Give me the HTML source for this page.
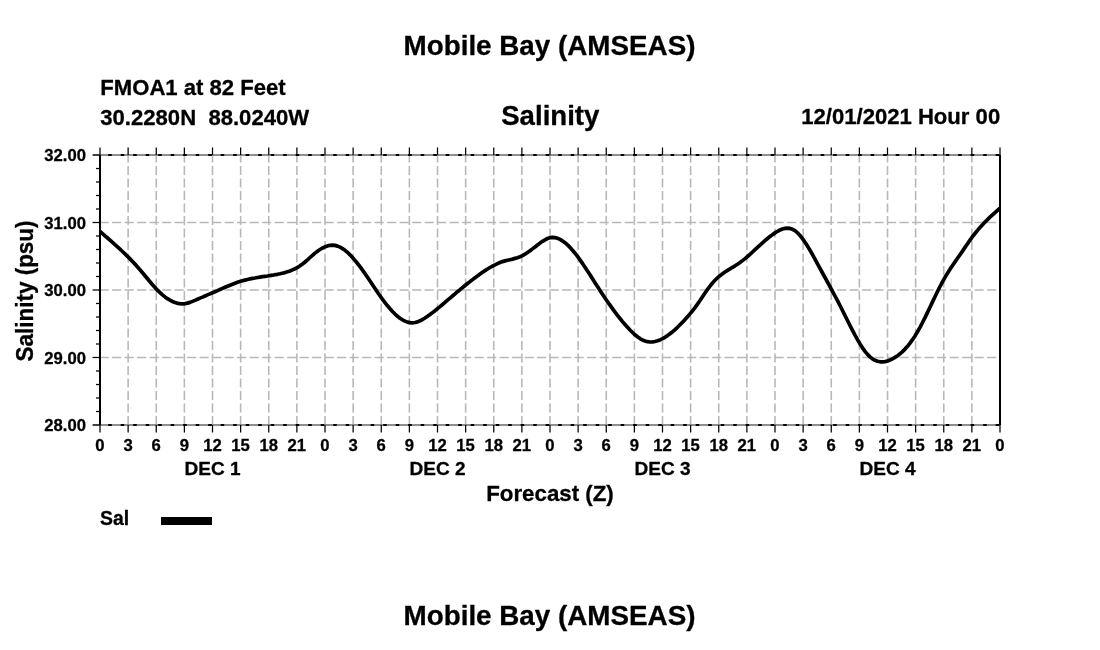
<!DOCTYPE html>
<html><head><meta charset="utf-8"><title>Mobile Bay (AMSEAS) Salinity</title>
<style>html,body{margin:0;padding:0;background:#fff}body{width:1100px;height:650px;overflow:hidden}svg{display:block}text{font-family:"Liberation Sans",Arial,Helvetica,sans-serif;font-weight:bold;fill:#000;stroke:#000;stroke-width:0.3px;stroke-linejoin:round}</style></head><body>
<svg width="1100" height="650" viewBox="0 0 1100 650">
<rect width="1100" height="650" fill="#fff"/>
<g stroke="#b8b8b8" stroke-width="1.6" stroke-dasharray="9.1 3.4" fill="none">
<line x1="128.125" y1="425.1" x2="128.125" y2="155"/>
<line x1="156.250" y1="425.1" x2="156.250" y2="155"/>
<line x1="184.375" y1="425.1" x2="184.375" y2="155"/>
<line x1="212.500" y1="425.1" x2="212.500" y2="155"/>
<line x1="240.625" y1="425.1" x2="240.625" y2="155"/>
<line x1="268.750" y1="425.1" x2="268.750" y2="155"/>
<line x1="296.875" y1="425.1" x2="296.875" y2="155"/>
<line x1="325.000" y1="425.1" x2="325.000" y2="155"/>
<line x1="353.125" y1="425.1" x2="353.125" y2="155"/>
<line x1="381.250" y1="425.1" x2="381.250" y2="155"/>
<line x1="409.375" y1="425.1" x2="409.375" y2="155"/>
<line x1="437.500" y1="425.1" x2="437.500" y2="155"/>
<line x1="465.625" y1="425.1" x2="465.625" y2="155"/>
<line x1="493.750" y1="425.1" x2="493.750" y2="155"/>
<line x1="521.875" y1="425.1" x2="521.875" y2="155"/>
<line x1="550.000" y1="425.1" x2="550.000" y2="155"/>
<line x1="578.125" y1="425.1" x2="578.125" y2="155"/>
<line x1="606.250" y1="425.1" x2="606.250" y2="155"/>
<line x1="634.375" y1="425.1" x2="634.375" y2="155"/>
<line x1="662.500" y1="425.1" x2="662.500" y2="155"/>
<line x1="690.625" y1="425.1" x2="690.625" y2="155"/>
<line x1="718.750" y1="425.1" x2="718.750" y2="155"/>
<line x1="746.875" y1="425.1" x2="746.875" y2="155"/>
<line x1="775.000" y1="425.1" x2="775.000" y2="155"/>
<line x1="803.125" y1="425.1" x2="803.125" y2="155"/>
<line x1="831.250" y1="425.1" x2="831.250" y2="155"/>
<line x1="859.375" y1="425.1" x2="859.375" y2="155"/>
<line x1="887.500" y1="425.1" x2="887.500" y2="155"/>
<line x1="915.625" y1="425.1" x2="915.625" y2="155"/>
<line x1="943.750" y1="425.1" x2="943.750" y2="155"/>
<line x1="971.875" y1="425.1" x2="971.875" y2="155"/>
<line x1="99.6" y1="155.00" x2="1000" y2="155.00"/>
<line x1="99.6" y1="222.50" x2="1000" y2="222.50"/>
<line x1="99.6" y1="290.00" x2="1000" y2="290.00"/>
<line x1="99.6" y1="357.50" x2="1000" y2="357.50"/>
<line x1="99.6" y1="425.00" x2="1000" y2="425.00"/>
</g>
<g stroke="#555" stroke-width="1" fill="none">
<line x1="93" y1="155" x2="1000" y2="155"/>
<line x1="93" y1="425" x2="1000" y2="425"/>
</g>
<g stroke="#000" stroke-width="2" stroke-dasharray="3.6 8.9" fill="none">
<line x1="108.2" y1="155" x2="1000" y2="155"/>
<line x1="108.2" y1="425" x2="1000" y2="425"/>
</g>
<g stroke="#000" stroke-width="1.25" fill="none">
<line x1="100.000" y1="147.5" x2="100.000" y2="155"/>
<line x1="100.000" y1="425" x2="100.000" y2="432.5"/>
<line x1="128.125" y1="147.5" x2="128.125" y2="155"/>
<line x1="128.125" y1="425" x2="128.125" y2="432.5"/>
<line x1="156.250" y1="147.5" x2="156.250" y2="155"/>
<line x1="156.250" y1="425" x2="156.250" y2="432.5"/>
<line x1="184.375" y1="147.5" x2="184.375" y2="155"/>
<line x1="184.375" y1="425" x2="184.375" y2="432.5"/>
<line x1="212.500" y1="147.5" x2="212.500" y2="155"/>
<line x1="212.500" y1="425" x2="212.500" y2="432.5"/>
<line x1="240.625" y1="147.5" x2="240.625" y2="155"/>
<line x1="240.625" y1="425" x2="240.625" y2="432.5"/>
<line x1="268.750" y1="147.5" x2="268.750" y2="155"/>
<line x1="268.750" y1="425" x2="268.750" y2="432.5"/>
<line x1="296.875" y1="147.5" x2="296.875" y2="155"/>
<line x1="296.875" y1="425" x2="296.875" y2="432.5"/>
<line x1="325.000" y1="147.5" x2="325.000" y2="155"/>
<line x1="325.000" y1="425" x2="325.000" y2="432.5"/>
<line x1="353.125" y1="147.5" x2="353.125" y2="155"/>
<line x1="353.125" y1="425" x2="353.125" y2="432.5"/>
<line x1="381.250" y1="147.5" x2="381.250" y2="155"/>
<line x1="381.250" y1="425" x2="381.250" y2="432.5"/>
<line x1="409.375" y1="147.5" x2="409.375" y2="155"/>
<line x1="409.375" y1="425" x2="409.375" y2="432.5"/>
<line x1="437.500" y1="147.5" x2="437.500" y2="155"/>
<line x1="437.500" y1="425" x2="437.500" y2="432.5"/>
<line x1="465.625" y1="147.5" x2="465.625" y2="155"/>
<line x1="465.625" y1="425" x2="465.625" y2="432.5"/>
<line x1="493.750" y1="147.5" x2="493.750" y2="155"/>
<line x1="493.750" y1="425" x2="493.750" y2="432.5"/>
<line x1="521.875" y1="147.5" x2="521.875" y2="155"/>
<line x1="521.875" y1="425" x2="521.875" y2="432.5"/>
<line x1="550.000" y1="147.5" x2="550.000" y2="155"/>
<line x1="550.000" y1="425" x2="550.000" y2="432.5"/>
<line x1="578.125" y1="147.5" x2="578.125" y2="155"/>
<line x1="578.125" y1="425" x2="578.125" y2="432.5"/>
<line x1="606.250" y1="147.5" x2="606.250" y2="155"/>
<line x1="606.250" y1="425" x2="606.250" y2="432.5"/>
<line x1="634.375" y1="147.5" x2="634.375" y2="155"/>
<line x1="634.375" y1="425" x2="634.375" y2="432.5"/>
<line x1="662.500" y1="147.5" x2="662.500" y2="155"/>
<line x1="662.500" y1="425" x2="662.500" y2="432.5"/>
<line x1="690.625" y1="147.5" x2="690.625" y2="155"/>
<line x1="690.625" y1="425" x2="690.625" y2="432.5"/>
<line x1="718.750" y1="147.5" x2="718.750" y2="155"/>
<line x1="718.750" y1="425" x2="718.750" y2="432.5"/>
<line x1="746.875" y1="147.5" x2="746.875" y2="155"/>
<line x1="746.875" y1="425" x2="746.875" y2="432.5"/>
<line x1="775.000" y1="147.5" x2="775.000" y2="155"/>
<line x1="775.000" y1="425" x2="775.000" y2="432.5"/>
<line x1="803.125" y1="147.5" x2="803.125" y2="155"/>
<line x1="803.125" y1="425" x2="803.125" y2="432.5"/>
<line x1="831.250" y1="147.5" x2="831.250" y2="155"/>
<line x1="831.250" y1="425" x2="831.250" y2="432.5"/>
<line x1="859.375" y1="147.5" x2="859.375" y2="155"/>
<line x1="859.375" y1="425" x2="859.375" y2="432.5"/>
<line x1="887.500" y1="147.5" x2="887.500" y2="155"/>
<line x1="887.500" y1="425" x2="887.500" y2="432.5"/>
<line x1="915.625" y1="147.5" x2="915.625" y2="155"/>
<line x1="915.625" y1="425" x2="915.625" y2="432.5"/>
<line x1="943.750" y1="147.5" x2="943.750" y2="155"/>
<line x1="943.750" y1="425" x2="943.750" y2="432.5"/>
<line x1="971.875" y1="147.5" x2="971.875" y2="155"/>
<line x1="971.875" y1="425" x2="971.875" y2="432.5"/>
<line x1="1000.000" y1="147.5" x2="1000.000" y2="155"/>
<line x1="1000.000" y1="425" x2="1000.000" y2="432.5"/>
<line x1="92.5" y1="155.00" x2="100" y2="155.00"/>
<line x1="96" y1="168.50" x2="100" y2="168.50"/>
<line x1="96" y1="182.00" x2="100" y2="182.00"/>
<line x1="96" y1="195.50" x2="100" y2="195.50"/>
<line x1="96" y1="209.00" x2="100" y2="209.00"/>
<line x1="92.5" y1="222.50" x2="100" y2="222.50"/>
<line x1="96" y1="236.00" x2="100" y2="236.00"/>
<line x1="96" y1="249.50" x2="100" y2="249.50"/>
<line x1="96" y1="263.00" x2="100" y2="263.00"/>
<line x1="96" y1="276.50" x2="100" y2="276.50"/>
<line x1="92.5" y1="290.00" x2="100" y2="290.00"/>
<line x1="96" y1="303.50" x2="100" y2="303.50"/>
<line x1="96" y1="317.00" x2="100" y2="317.00"/>
<line x1="96" y1="330.50" x2="100" y2="330.50"/>
<line x1="96" y1="344.00" x2="100" y2="344.00"/>
<line x1="92.5" y1="357.50" x2="100" y2="357.50"/>
<line x1="96" y1="371.00" x2="100" y2="371.00"/>
<line x1="96" y1="384.50" x2="100" y2="384.50"/>
<line x1="96" y1="398.00" x2="100" y2="398.00"/>
<line x1="96" y1="411.50" x2="100" y2="411.50"/>
<line x1="92.5" y1="425.00" x2="100" y2="425.00"/>
</g>
<g stroke="#000" stroke-width="2" fill="none">
<line x1="100" y1="155" x2="100" y2="425"/>
<line x1="1000" y1="155" x2="1000" y2="425"/>
</g>
<path d="M100.0,231.4 L102.5,233.6 L105.0,235.8 L107.5,238.0 L110.0,240.2 L112.5,242.4 L115.0,244.6 L117.5,246.9 L120.0,249.2 L122.5,251.5 L125.0,253.9 L127.5,256.3 L130.0,258.9 L132.5,261.5 L135.0,264.1 L137.5,266.9 L140.0,269.8 L142.5,272.8 L145.0,275.8 L147.5,278.8 L150.0,281.8 L152.5,284.8 L155.0,287.5 L157.5,290.2 L160.0,292.6 L162.5,294.9 L165.0,296.9 L167.5,298.7 L170.0,300.2 L172.5,301.5 L175.0,302.5 L177.5,303.3 L180.0,303.7 L182.5,303.8 L185.0,303.6 L187.5,303.1 L190.0,302.4 L192.5,301.4 L195.0,300.4 L197.5,299.2 L200.0,298.1 L202.5,297.1 L205.0,296.0 L207.5,294.9 L210.0,293.9 L212.5,292.8 L215.0,291.7 L217.5,290.6 L220.0,289.5 L222.5,288.4 L225.0,287.3 L227.5,286.2 L230.0,285.2 L232.5,284.2 L235.0,283.2 L237.5,282.3 L240.0,281.5 L242.5,280.8 L245.0,280.1 L247.5,279.5 L250.0,278.9 L252.5,278.4 L255.0,278.0 L257.5,277.5 L260.0,277.1 L262.5,276.7 L265.0,276.3 L267.5,276.0 L270.0,275.6 L272.5,275.2 L275.0,274.7 L277.5,274.3 L280.0,273.8 L282.5,273.2 L285.0,272.6 L287.5,271.8 L290.0,271.0 L292.5,269.9 L295.0,268.8 L297.5,267.4 L300.0,265.8 L302.5,264.0 L305.0,262.0 L307.5,259.8 L310.0,257.5 L312.5,255.3 L315.0,253.1 L317.5,251.2 L320.0,249.5 L322.5,248.0 L325.0,246.8 L327.5,245.9 L330.0,245.3 L332.5,245.2 L335.0,245.4 L337.5,246.1 L340.0,247.1 L342.5,248.6 L345.0,250.3 L347.5,252.4 L350.0,254.8 L352.5,257.5 L355.0,260.4 L357.5,263.5 L360.0,266.7 L362.5,270.2 L365.0,273.7 L367.5,277.3 L370.0,281.1 L372.5,284.8 L375.0,288.5 L377.5,292.2 L380.0,295.8 L382.5,299.3 L385.0,302.6 L387.5,305.8 L390.0,308.8 L392.5,311.5 L395.0,314.0 L397.5,316.3 L400.0,318.2 L402.5,319.8 L405.0,321.1 L407.5,322.1 L410.0,322.6 L412.5,322.8 L415.0,322.5 L417.5,321.9 L420.0,320.8 L422.5,319.5 L425.0,318.0 L427.5,316.3 L430.0,314.5 L432.5,312.6 L435.0,310.7 L437.5,308.6 L440.0,306.6 L442.5,304.5 L445.0,302.4 L447.5,300.2 L450.0,298.1 L452.5,296.0 L455.0,293.9 L457.5,291.7 L460.0,289.7 L462.5,287.6 L465.0,285.5 L467.5,283.5 L470.0,281.6 L472.5,279.6 L475.0,277.7 L477.5,275.9 L480.0,274.1 L482.5,272.3 L485.0,270.6 L487.5,269.0 L490.0,267.5 L492.5,266.1 L495.0,264.8 L497.5,263.6 L500.0,262.5 L502.5,261.6 L505.0,260.9 L507.5,260.3 L510.0,259.7 L512.5,259.1 L515.0,258.4 L517.5,257.7 L520.0,256.7 L522.5,255.6 L525.0,254.2 L527.5,252.5 L530.0,250.8 L532.5,248.9 L535.0,247.0 L537.5,245.0 L540.0,243.1 L542.5,241.3 L545.0,239.8 L547.5,238.5 L550.0,237.7 L552.5,237.4 L555.0,237.6 L557.5,238.3 L560.0,239.4 L562.5,240.9 L565.0,242.7 L567.5,244.9 L570.0,247.4 L572.5,250.2 L575.0,253.2 L577.5,256.4 L580.0,259.9 L582.5,263.4 L585.0,267.2 L587.5,271.0 L590.0,274.8 L592.5,278.8 L595.0,282.7 L597.5,286.6 L600.0,290.5 L602.5,294.3 L605.0,298.0 L607.5,301.7 L610.0,305.2 L612.5,308.7 L615.0,312.1 L617.5,315.4 L620.0,318.5 L622.5,321.6 L625.0,324.5 L627.5,327.3 L630.0,330.0 L632.5,332.5 L635.0,334.8 L637.5,336.8 L640.0,338.6 L642.5,340.0 L645.0,341.0 L647.5,341.7 L650.0,342.0 L652.5,341.9 L655.0,341.5 L657.5,340.8 L660.0,339.9 L662.5,338.7 L665.0,337.3 L667.5,335.6 L670.0,333.8 L672.5,331.8 L675.0,329.6 L677.5,327.3 L680.0,324.8 L682.5,322.2 L685.0,319.6 L687.5,316.8 L690.0,313.9 L692.5,310.9 L695.0,307.6 L697.5,304.1 L700.0,300.5 L702.5,296.7 L705.0,293.0 L707.5,289.4 L710.0,286.1 L712.5,283.0 L715.0,280.3 L717.5,277.8 L720.0,275.7 L722.5,273.8 L725.0,272.0 L727.5,270.4 L730.0,268.9 L732.5,267.3 L735.0,265.8 L737.5,264.2 L740.0,262.5 L742.5,260.6 L745.0,258.6 L747.5,256.5 L750.0,254.3 L752.5,252.0 L755.0,249.7 L757.5,247.4 L760.0,245.1 L762.5,242.9 L765.0,240.7 L767.5,238.5 L770.0,236.5 L772.5,234.6 L775.0,232.9 L777.5,231.3 L780.0,230.0 L782.5,229.0 L785.0,228.4 L787.5,228.2 L790.0,228.4 L792.5,229.3 L795.0,230.7 L797.5,232.8 L800.0,235.5 L802.5,238.6 L805.0,242.2 L807.5,246.1 L810.0,250.3 L812.5,254.7 L815.0,259.2 L817.5,263.8 L820.0,268.4 L822.5,273.0 L825.0,277.5 L827.5,282.1 L830.0,286.7 L832.5,291.3 L835.0,296.0 L837.5,300.7 L840.0,305.5 L842.5,310.5 L845.0,315.5 L847.5,320.5 L850.0,325.5 L852.5,330.4 L855.0,335.2 L857.5,339.7 L860.0,343.9 L862.5,347.8 L865.0,351.3 L867.5,354.4 L870.0,356.9 L872.5,358.9 L875.0,360.3 L877.5,361.3 L880.0,361.8 L882.5,361.9 L885.0,361.6 L887.5,361.0 L890.0,360.0 L892.5,358.8 L895.0,357.4 L897.5,355.7 L900.0,353.8 L902.5,351.6 L905.0,349.1 L907.5,346.3 L910.0,343.2 L912.5,339.7 L915.0,335.9 L917.5,331.7 L920.0,327.3 L922.5,322.5 L925.0,317.6 L927.5,312.4 L930.0,307.2 L932.5,301.9 L935.0,296.7 L937.5,291.5 L940.0,286.5 L942.5,281.8 L945.0,277.3 L947.5,273.2 L950.0,269.3 L952.5,265.5 L955.0,261.9 L957.5,258.3 L960.0,254.7 L962.5,251.1 L965.0,247.4 L967.5,243.7 L970.0,240.1 L972.5,236.7 L975.0,233.5 L977.5,230.4 L980.0,227.5 L982.5,224.8 L985.0,222.1 L987.5,219.6 L990.0,217.2 L992.5,214.9 L995.0,212.6 L997.5,210.4 L1000.0,208.2" fill="none" stroke="#000" stroke-width="3.7" stroke-linejoin="round" stroke-linecap="butt"/>
<text x="549.5" y="54.9" font-size="27.8" text-anchor="middle">Mobile Bay (AMSEAS)</text>
<text x="549.5" y="624.7" font-size="27.8" text-anchor="middle">Mobile Bay (AMSEAS)</text>
<text x="100.3" y="94.9" font-size="22.1">FMOA1 at 82 Feet</text>
<text x="100.3" y="124.5" font-size="22.1" xml:space="preserve" style="white-space:pre">30.2280N  88.0240W</text>
<text x="550.3" y="125.1" font-size="27.6" text-anchor="middle">Salinity</text>
<text x="1000.2" y="124.2" font-size="22.1" text-anchor="end">12/01/2021 Hour 00</text>
<text x="86" y="161.10" font-size="16.65" text-anchor="end">32.00</text>
<text x="86" y="228.60" font-size="16.65" text-anchor="end">31.00</text>
<text x="86" y="296.10" font-size="16.65" text-anchor="end">30.00</text>
<text x="86" y="363.60" font-size="16.65" text-anchor="end">29.00</text>
<text x="86" y="431.10" font-size="16.65" text-anchor="end">28.00</text>
<text x="100.000" y="451" font-size="16.65" text-anchor="middle">0</text>
<text x="128.125" y="451" font-size="16.65" text-anchor="middle">3</text>
<text x="156.250" y="451" font-size="16.65" text-anchor="middle">6</text>
<text x="184.375" y="451" font-size="16.65" text-anchor="middle">9</text>
<text x="212.500" y="451" font-size="16.65" text-anchor="middle">12</text>
<text x="240.625" y="451" font-size="16.65" text-anchor="middle">15</text>
<text x="268.750" y="451" font-size="16.65" text-anchor="middle">18</text>
<text x="296.875" y="451" font-size="16.65" text-anchor="middle">21</text>
<text x="325.000" y="451" font-size="16.65" text-anchor="middle">0</text>
<text x="353.125" y="451" font-size="16.65" text-anchor="middle">3</text>
<text x="381.250" y="451" font-size="16.65" text-anchor="middle">6</text>
<text x="409.375" y="451" font-size="16.65" text-anchor="middle">9</text>
<text x="437.500" y="451" font-size="16.65" text-anchor="middle">12</text>
<text x="465.625" y="451" font-size="16.65" text-anchor="middle">15</text>
<text x="493.750" y="451" font-size="16.65" text-anchor="middle">18</text>
<text x="521.875" y="451" font-size="16.65" text-anchor="middle">21</text>
<text x="550.000" y="451" font-size="16.65" text-anchor="middle">0</text>
<text x="578.125" y="451" font-size="16.65" text-anchor="middle">3</text>
<text x="606.250" y="451" font-size="16.65" text-anchor="middle">6</text>
<text x="634.375" y="451" font-size="16.65" text-anchor="middle">9</text>
<text x="662.500" y="451" font-size="16.65" text-anchor="middle">12</text>
<text x="690.625" y="451" font-size="16.65" text-anchor="middle">15</text>
<text x="718.750" y="451" font-size="16.65" text-anchor="middle">18</text>
<text x="746.875" y="451" font-size="16.65" text-anchor="middle">21</text>
<text x="775.000" y="451" font-size="16.65" text-anchor="middle">0</text>
<text x="803.125" y="451" font-size="16.65" text-anchor="middle">3</text>
<text x="831.250" y="451" font-size="16.65" text-anchor="middle">6</text>
<text x="859.375" y="451" font-size="16.65" text-anchor="middle">9</text>
<text x="887.500" y="451" font-size="16.65" text-anchor="middle">12</text>
<text x="915.625" y="451" font-size="16.65" text-anchor="middle">15</text>
<text x="943.750" y="451" font-size="16.65" text-anchor="middle">18</text>
<text x="971.875" y="451" font-size="16.65" text-anchor="middle">21</text>
<text x="1000.000" y="451" font-size="16.65" text-anchor="middle">0</text>
<text x="212.50" y="474.9" font-size="19" text-anchor="middle">DEC 1</text>
<text x="437.50" y="474.9" font-size="19" text-anchor="middle">DEC 2</text>
<text x="662.50" y="474.9" font-size="19" text-anchor="middle">DEC 3</text>
<text x="887.50" y="474.9" font-size="19" text-anchor="middle">DEC 4</text>
<text x="550" y="501" font-size="22.3" text-anchor="middle">Forecast (Z)</text>
<text transform="translate(33.2,291) rotate(-90) scale(1,1.06)" font-size="22.5" text-anchor="middle">Salinity (psu)</text>
<text x="100" y="525.1" font-size="19.4">Sal</text>
<rect x="161" y="517" width="51" height="8" fill="#000"/>
</svg></body></html>
